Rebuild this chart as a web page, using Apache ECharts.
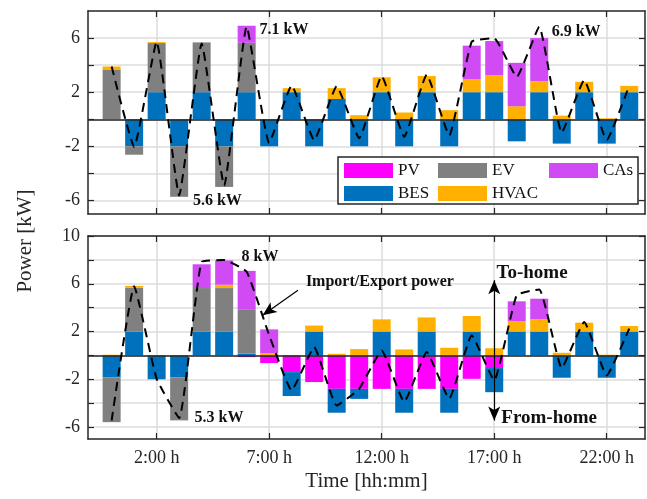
<!DOCTYPE html>
<html>
<head>
<meta charset="utf-8">
<script src="https://cdn.jsdelivr.net/npm/echarts@6/dist/echarts.min.js"></script>
<style>
  html, body { margin: 0; padding: 0; background: #fff; }
  #chart { width: 647px; height: 499px; }
</style>
</head>
<body>
<div id="chart"></div>
<script>
// hours of the day (bar centres)
var hours = [0,1,2,3,4,5,6,7,8,9,10,11,12,13,14,15,16,17,18,19,20,21,22,23];
var tickHours = [2, 7, 12, 17, 22];

// top panel [kW]
var pvTop   = [0,0,0,0,0,0,0,0,0,0,0,0,0,0,0,0,0,0,0,0,0,0,0,0];
var besTop  = [0,-2,2,-2,2,-2,2,-2,2,-2,1.5,-2,2,-2,2,-2,2,2,-1.63,2,-1.8,2,-1.8,2];
var evTop   = [3.68,-0.62,3.63,-3.73,3.68,-3.0,3.65,0,0,0,0,0,0,0,0,0,0,0,0,0,0,0,0,0];
var hvacTop = [0.22,0,0.07,0,0,0,0,0,0.3,0,0.8,0.3,1.1,0.5,1.2,0.67,0.94,1.26,0.96,0.81,0.27,0.77,0.07,0.47];
var casTop  = [0,0,0,0,0,0,1.26,0,0,0,0,0,0,0,0,0,2.5,2.52,3.21,3.19,0,0,0,0];
var netTop  = [3.9,-2.05,5.73,-5.63,5.6,-4.9,6.84,-1.75,2.5,-1.55,2.45,-1.4,3.2,-1.3,3.3,-1.2,5.73,5.98,3.13,6.84,-1.0,2.9,-1.55,2.5];

// bottom panel [kW]
var pvBot   = [0,0,0,0,0,0,-0.14,-0.64,-1.4,-2.23,-2.8,-2.8,-2.8,-2.8,-2.8,-2.8,-1.96,-1.06,0,0,0,0,0,0];
var besBot  = [-1.84,2,-2,-1.84,2,2,0.15,0,-2,2,-2,-0.84,2,-2,2,-2,2,-2.02,2,2,-1.87,2,-1.87,2];
var evBot   = [-3.75,3.68,0,-3.6,3.64,3.64,3.72,0,0,0,0,0,0,0,0,0,0,0,0,0,0,0,0,0];
var hvacBot = [0.06,0.14,0,0,0,0.28,0,0.2,0,0.5,0.14,0.53,1.02,0.5,1.18,0.64,1.3,0.6,0.85,1.02,0.22,0.74,0.06,0.46];
var casBot  = [0,0,0,0,1.99,2.04,3.21,1.98,0,0,0,0,0,0,0,0,0,0,1.68,1.73,0,0,0,0];
var netBot  = [-5.45,5.8,-1.96,-5.25,7.84,7.98,7.0,1.7,-2.93,0.7,-4.2,-2.8,0.42,-3.9,0.28,-3.63,1.68,-2.1,5.04,5.53,-1.06,2.8,-1.68,2.24];

var topTicks = [-6,-4,-2,0,2,4,6];
var topLabels = [-6,-2,2,6];
var botTicks = [-6,-4,-2,0,2,4,6,8,10];
var botLabels = [-6,-2,2,6,10];

var colors = { PV: '#FF00FF', EV: '#808080', CAs: '#D04BF4', BES: '#0072BD', HVAC: '#FFB000' };
var font = 'Liberation Serif, Times New Roman, serif';
var ink = '#262626';

// value first so the stack runs on the y dimension
function pairs(vals) {
  return hours.map(function (h, i) { return [vals[i], h]; });
}

function xAx(grid, pos, withLabels) {
  return {
    type: 'value', gridIndex: grid, position: pos, min: -1.05, max: 23.7,
    axisLine: { show: true, onZero: false, lineStyle: { color: ink, width: 1.5 } },
    axisTick: { show: true, inside: true, length: 6, customValues: tickHours, lineStyle: { color: ink, width: 1.2 } },
    axisLabel: {
      show: withLabels, customValues: tickHours, margin: 10,
      color: ink, fontFamily: font, fontSize: 18,
      formatter: function (v) { return v + ':00 h'; }
    },
    splitLine: { show: pos === 'bottom', lineStyle: { color: '#DCDCDC', width: 1.5 } }
  };
}

function yAx(grid, pos, lo, hi, ticks, labels) {
  return {
    type: 'value', gridIndex: grid, position: pos, min: lo, max: hi,
    axisLine: { show: true, onZero: false, lineStyle: { color: ink, width: 1.5 } },
    axisTick: { show: true, inside: true, length: 6, customValues: ticks, lineStyle: { color: ink, width: 1.2 } },
    axisLabel: { show: pos === 'left', customValues: labels, margin: 8, color: ink, fontFamily: font, fontSize: 18 },
    splitLine: { show: pos === 'left', lineStyle: { color: '#DCDCDC', width: 1.5 } }
  };
}

function bars(panel, xi, yi, sets) {
  var names = ['PV', 'BES', 'EV', 'HVAC', 'CAs'];
  return names.map(function (n, k) {
    var s = {
      name: n, type: 'bar', stack: panel, xAxisIndex: xi, yAxisIndex: yi,
      encode: { x: 1, y: 0 },
      barWidth: 18, itemStyle: { color: colors[n] },
      data: pairs(sets[k])
    };
    if (k === 0) {
      s.markLine = {
        silent: true, symbol: 'none', label: { show: false },
        lineStyle: { color: ink, width: 1.5, type: 'solid' },
        data: [{ yAxis: 0 }]
      };
    }
    return s;
  });
}

function note(text, x, y, size) {
  return {
    name: text, coord: [x, y], symbol: 'circle', symbolSize: 0,
    label: { show: true, position: 'inside', formatter: '{b}', color: '#111', fontFamily: font, fontWeight: 'bold', fontSize: size || 16 }
  };
}

var dashed = { color: '#000', width: 2, type: [9, 6] };

var series = []
  .concat(bars('top', 0, 0, [pvTop, besTop, evTop, hvacTop, casTop]))
  .concat([{
    name: 'Net top', type: 'line', xAxisIndex: 0, yAxisIndex: 0,
    encode: { x: 1, y: 0 },
    data: pairs(netTop), smooth: 0.12, symbol: 'none', lineStyle: dashed, z: 5,
    markPoint: { data: [note('7.1 kW', 7.66, 6.6), note('5.6 kW', 4.7, -6.0), note('6.9 kW', 20.64, 6.44)] }
  }])
  .concat(bars('bot', 2, 2, [pvBot, besBot, evBot, hvacBot, casBot]))
  .concat([{
    name: 'Net bottom', type: 'line', xAxisIndex: 2, yAxisIndex: 2,
    encode: { x: 1, y: 0 },
    data: pairs(netBot), smooth: 0.12, symbol: 'none', lineStyle: dashed, z: 5,
    markPoint: {
      data: [
        note('8 kW', 6.59, 8.24), note('5.3 kW', 4.77, -5.21),
        note('Import/Export power', 11.92, 6.13, 16),
        note('To-home', 18.68, 6.89, 19), note('From-home', 19.44, -5.21, 19)
      ]
    },
    markLine: {
      silent: true, label: { show: false },
      lineStyle: { color: '#000', width: 1.2, type: 'solid' },
      symbol: ['arrow', 'arrow'], symbolSize: [9, 14],
      data: [
        [{ coord: [17, -5.46] }, { coord: [17, 6.3] }],
        [{ coord: [8.28, 5.46], symbol: 'none' }, { coord: [6.71, 3.36], symbol: 'arrow' }]
      ]
    }
  }]);

function legendCol(left, names) {
  return {
    orient: 'vertical', left: left, top: 162, padding: 0, itemGap: 6,
    itemWidth: 49, itemHeight: 15, icon: 'rect', selectedMode: false, z: 6,
    textStyle: { color: '#111', fontFamily: font, fontSize: 17, lineHeight: 16 },
    data: names
  };
}

var chart = echarts.init(document.getElementById('chart'));
chart.setOption({
  animation: false,
  backgroundColor: '#fff',
  grid: [
    { left: 88, right: 2, top: 11, height: 203 },
    { left: 88, right: 2, top: 236, height: 203 }
  ],
  xAxis: [
    xAx(0, 'bottom', false), xAx(0, 'top', false),
    Object.assign(xAx(1, 'bottom', true), {
      name: 'Time [hh:mm]', nameLocation: 'middle', nameGap: 32,
      nameTextStyle: { color: ink, fontFamily: font, fontSize: 21 }
    }),
    xAx(1, 'top', false)
  ],
  yAxis: [
    yAx(0, 'left', -7, 8, topTicks, topLabels), yAx(0, 'right', -7, 8, topTicks, topLabels),
    yAx(1, 'left', -7, 10, botTicks, botLabels), yAx(1, 'right', -7, 10, botTicks, botLabels)
  ],
  legend: [
    legendCol(344, ['PV', 'BES']),
    legendCol(438, ['EV', 'HVAC']),
    legendCol(549, ['CAs'])
  ],
  graphic: [
    {
      type: 'rect', z: 4, silent: true,
      shape: { x: 338, y: 157, width: 300, height: 47 },
      style: { fill: '#fff', stroke: ink, lineWidth: 1.5 }
    },
    {
      type: 'text', x: 25, y: 241, rotation: Math.PI / 2, silent: true,
      style: { text: 'Power [kW]', fill: ink, font: '21px ' + font, align: 'center', verticalAlign: 'middle' }
    }
  ],
  series: series
});
</script>
</body>
</html>
